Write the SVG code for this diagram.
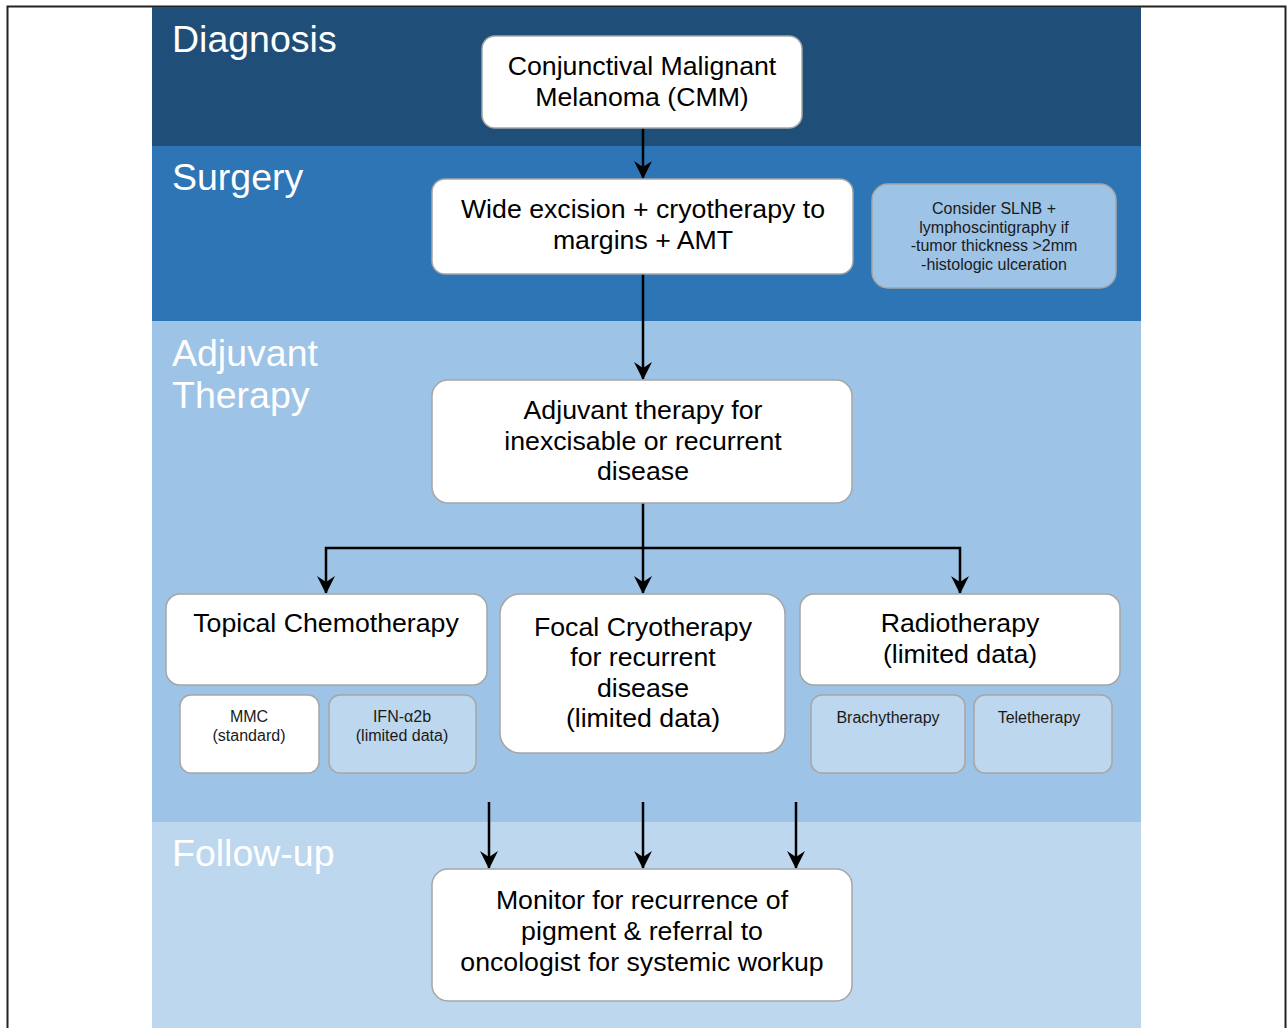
<svg xmlns="http://www.w3.org/2000/svg" width="1288" height="1028" viewBox="0 0 1288 1028">
<defs>
<style>
.band-t{font-family:"Liberation Sans",Arial,sans-serif;font-size:37.5px;fill:#fff}
.box{fill:#fff;stroke:#a6a6a6;stroke-width:1.5}
.boxb{fill:#9dc3e6;stroke:#a6a6a6;stroke-width:1.5}
.boxl{fill:#bdd7ee;stroke:#a6a6a6;stroke-width:1.5}
.t{font-family:"Liberation Sans",Arial,sans-serif;font-size:26.7px;fill:#000;text-anchor:middle}
.s{font-family:"Liberation Sans",Arial,sans-serif;font-size:16px;fill:#1a1a1a;text-anchor:middle}
.c{fill:none;stroke:#000;stroke-width:2.5}
</style>
<marker id="ah" viewBox="0 0 20 20" refX="17" refY="10" markerWidth="20" markerHeight="20" markerUnits="userSpaceOnUse" orient="auto">
<path d="M0,1 L18,10 L0,19 L6,10 Z" fill="#000"/>
</marker>
</defs>
<rect x="0" y="0" width="1288" height="1028" fill="#fff"/>
<rect x="7.5" y="6.5" width="1278" height="1030" fill="none" stroke="#222" stroke-width="2"/>
<g id="bands">
<rect x="152" y="7" width="989" height="139" fill="#1f4e78"/>
<rect x="152" y="146" width="989" height="175" fill="#2e75b6"/>
<rect x="152" y="321" width="989" height="501" fill="#9dc3e6"/>
<rect x="152" y="822" width="989" height="206" fill="#bdd7ee"/>
<text class="band-t" x="172" y="52">Diagnosis</text>
<text class="band-t" x="172" y="190">Surgery</text>
<text class="band-t" x="172" y="366">Adjuvant</text>
<text class="band-t" x="172" y="408">Therapy</text>
<text class="band-t" x="172" y="866">Follow-up</text>
</g>
<g id="connectors">
<line class="c" x1="643" y1="128" x2="643" y2="178" marker-end="url(#ah)"/>
<line class="c" x1="643" y1="274" x2="643" y2="379" marker-end="url(#ah)"/>
<line class="c" x1="643" y1="503" x2="643" y2="593" marker-end="url(#ah)"/>
<path class="c" d="M643,548 H326 V593" marker-end="url(#ah)"/>
<path class="c" d="M643,548 H960 V593" marker-end="url(#ah)"/>
<line class="c" x1="489" y1="802" x2="489" y2="868" marker-end="url(#ah)"/>
<line class="c" x1="643" y1="802" x2="643" y2="868" marker-end="url(#ah)"/>
<line class="c" x1="796" y1="802" x2="796" y2="868" marker-end="url(#ah)"/>
</g>
<g id="cmm">
<rect class="box" x="482" y="36" width="320" height="92" rx="13"/>
<text class="t" x="642" y="75">Conjunctival Malignant</text>
<text class="t" x="642" y="106">Melanoma (CMM)</text>
</g>
<g id="excision">
<rect class="box" x="432" y="179" width="421" height="95" rx="13"/>
<text class="t" x="643" y="218">Wide excision + cryotherapy to</text>
<text class="t" x="643" y="249">margins + AMT</text>
</g>
<g id="slnb">
<rect class="boxb" x="872" y="184" width="244" height="104" rx="16"/>
<text class="s" x="994" y="214">Consider SLNB +</text>
<text class="s" x="994" y="233">lymphoscintigraphy if</text>
<text class="s" x="994" y="251">-tumor thickness &gt;2mm</text>
<text class="s" x="994" y="270">-histologic ulceration</text>
</g>
<g id="adjuvant">
<rect class="box" x="432" y="380" width="420" height="123" rx="16"/>
<text class="t" x="643" y="419">Adjuvant therapy for</text>
<text class="t" x="643" y="450">inexcisable or recurrent</text>
<text class="t" x="643" y="480">disease</text>
</g>
<g id="topical">
<rect class="box" x="166" y="594" width="321" height="91" rx="14"/>
<text class="t" x="326" y="632">Topical Chemotherapy</text>
</g>
<g id="mmc">
<rect class="box" x="180" y="695" width="139" height="78" rx="11"/>
<text class="s" x="249" y="722">MMC</text>
<text class="s" x="249" y="741">(standard)</text>
</g>
<g id="ifn">
<rect class="boxl" x="329" y="695" width="147" height="78" rx="11"/>
<text class="s" x="402" y="722">IFN-α2b</text>
<text class="s" x="402" y="741">(limited data)</text>
</g>
<g id="focal">
<rect class="box" x="500" y="594" width="285" height="159" rx="20"/>
<text class="t" x="643" y="636">Focal Cryotherapy</text>
<text class="t" x="643" y="666">for recurrent</text>
<text class="t" x="643" y="697">disease</text>
<text class="t" x="643" y="727">(limited data)</text>
</g>
<g id="radio">
<rect class="box" x="800" y="594" width="320" height="91" rx="14"/>
<text class="t" x="960" y="632">Radiotherapy</text>
<text class="t" x="960" y="663">(limited data)</text>
</g>
<g id="brachy">
<rect class="boxl" x="811" y="695" width="154" height="78" rx="11"/>
<text class="s" x="888" y="723">Brachytherapy</text>
</g>
<g id="tele">
<rect class="boxl" x="974" y="695" width="138" height="78" rx="11"/>
<text class="s" x="1039" y="723">Teletherapy</text>
</g>
<g id="monitor">
<rect class="box" x="432" y="869" width="420" height="132" rx="16"/>
<text class="t" x="642" y="909">Monitor for recurrence of</text>
<text class="t" x="642" y="940">pigment &amp; referral to</text>
<text class="t" x="642" y="971">oncologist for systemic workup</text>
</g>
</svg>
